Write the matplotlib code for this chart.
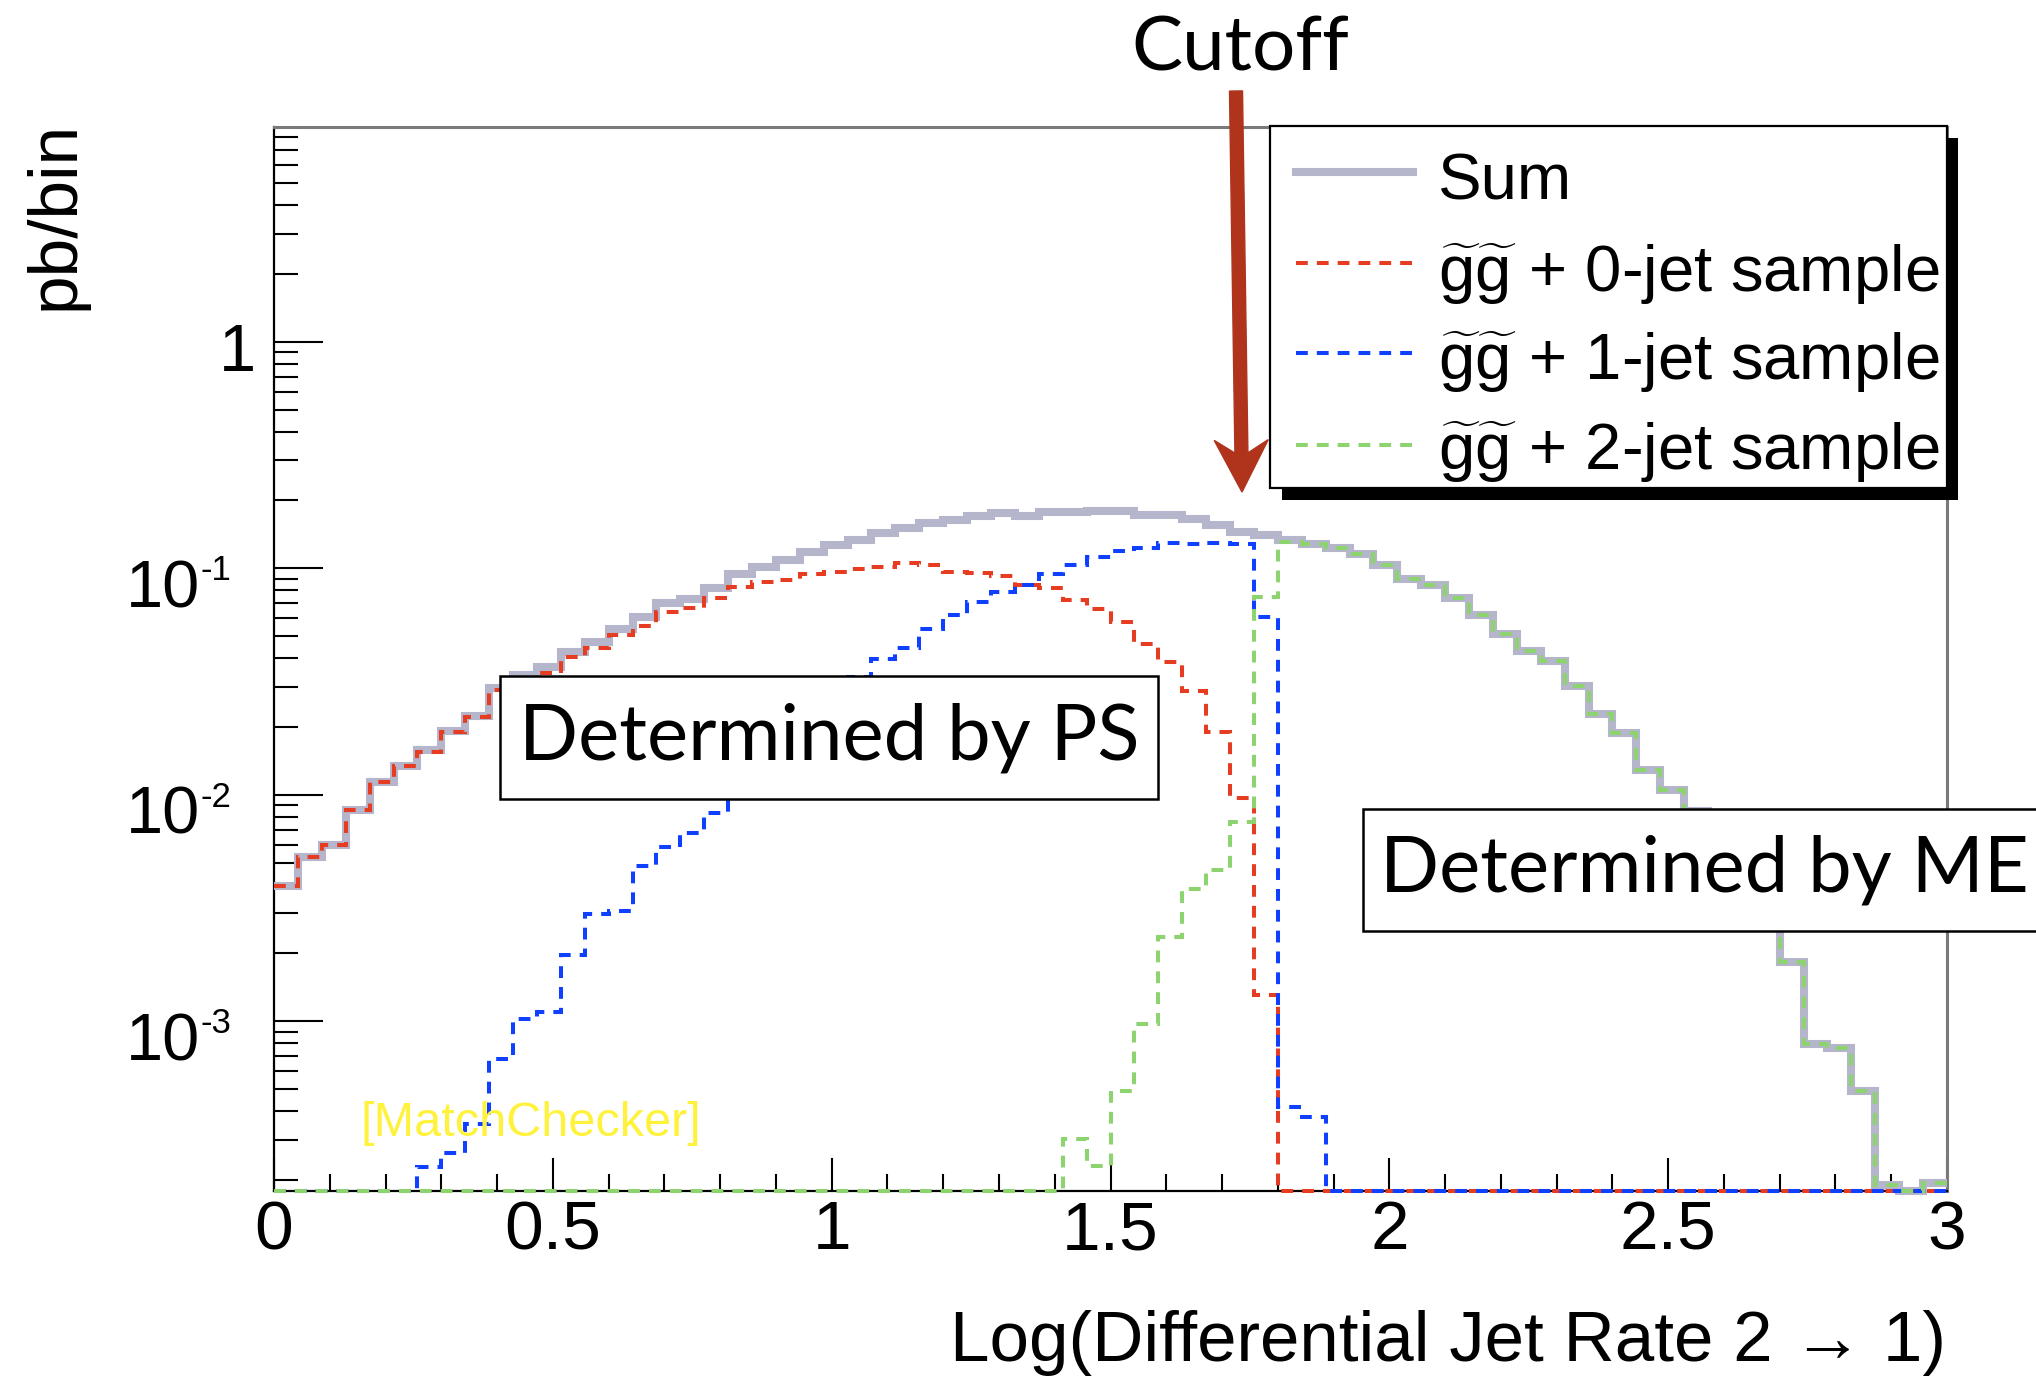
import numpy as np
import matplotlib
matplotlib.use("Agg")
import matplotlib.pyplot as plt
from matplotlib.patches import Rectangle, FancyArrow
from matplotlib.lines import Line2D
from matplotlib.ticker import LogLocator, MultipleLocator, NullFormatter
from matplotlib.transforms import ScaledTranslation, blended_transform_factory

plt.rcParams["font.family"] = ["Liberation Sans", "DejaVu Sans"]
plt.rcParams["mathtext.fontset"] = "custom"
plt.rcParams["mathtext.rm"] = "Liberation Sans"
plt.rcParams["mathtext.it"] = "Liberation Sans:italic"
plt.rcParams["mathtext.bf"] = "Liberation Sans:bold"
plt.rcParams["lines.scale_dashes"] = False

W, H = 2036, 1378

# 70 bins of log10(y_21) between 0 and 3
X_MIN, X_MAX, N_BINS = 0.0, 3.0, 70
Y_MIN, Y_MAX = 1.78e-4, 8.87

X_TICKS = [0, 0.5, 1, 1.5, 2, 2.5, 3]
X_TICK_LABELS = ["0", "0.5", "1", "1.5", "2", "2.5", "3"]
Y_TICKS = [1e-3, 1e-2, 1e-1, 1]
Y_TICK_LABELS = ["10", "10", "10", "1"]
Y_EXPONENTS = ["-3", "-2", "-1", ""]

# pb/bin per sample
sum_all = [
    3.95e-3, 5.33e-3, 6.0e-3, 8.55e-3, 1.14e-2, 1.34e-2, 1.57e-2, 1.92e-2, 2.23e-2, 2.95e-2,
    3.38e-2, 3.67e-2, 4.28e-2, 4.73e-2, 5.37e-2, 6.07e-2, 7.0e-2, 7.31e-2, 8.15e-2, 9.4e-2,
    1.016e-1, 1.087e-1, 1.18e-1, 1.265e-1, 1.33e-1, 1.426e-1, 1.50e-1, 1.58e-1, 1.63e-1, 1.70e-1,
    1.76e-1, 1.70e-1, 1.776e-1, 1.776e-1, 1.795e-1, 1.795e-1, 1.717e-1, 1.717e-1, 1.643e-1, 1.55e-1,
    1.45e-1, 1.40e-1, 1.33e-1, 1.279e-1, 1.23e-1, 1.16e-1, 1.03e-1, 9.0e-2, 8.45e-2, 7.35e-2,
    6.19e-2, 5.13e-2, 4.32e-2, 3.88e-2, 3.03e-2, 2.27e-2, 1.88e-2, 1.28e-2, 1.05e-2, 8.5e-3,
    6.5e-3, 4.8e-3, 3.3e-3, 1.82e-3, 7.94e-4, 7.58e-4, 4.94e-4, 1.9e-4, 0.0, 1.94e-4,
]
jet0 = [
    3.95e-3, 5.33e-3, 6.0e-3, 8.55e-3, 1.14e-2, 1.34e-2, 1.55e-2, 1.90e-2, 2.20e-2, 2.90e-2,
    3.20e-2, 3.46e-2, 4.04e-2, 4.43e-2, 5.07e-2, 5.57e-2, 6.38e-2, 6.65e-2, 7.36e-2, 8.23e-2,
    8.71e-2, 8.87e-2, 9.43e-2, 9.66e-2, 9.90e-2, 1.01e-1, 1.057e-1, 1.033e-1, 9.66e-2, 9.55e-2,
    9.24e-2, 8.43e-2, 8.15e-2, 7.24e-2, 6.58e-2, 5.80e-2, 4.65e-2, 3.87e-2, 2.87e-2, 1.90e-2,
    9.7e-3, 1.30e-3, 0.0, 0.0, 0.0, 0.0, 0.0, 0.0, 0.0, 0.0,
    0.0, 0.0, 0.0, 0.0, 0.0, 0.0, 0.0, 0.0, 0.0, 0.0,
    0.0, 0.0, 0.0, 0.0, 0.0, 0.0, 0.0, 0.0, 0.0, 0.0,
]
jet1 = [
    0.0, 0.0, 0.0, 0.0, 0.0, 0.0, 2.27e-4, 2.61e-4, 3.5e-4, 6.8e-4,
    1.02e-3, 1.10e-3, 1.96e-3, 2.96e-3, 3.06e-3, 4.86e-3, 5.89e-3, 6.75e-3, 8.27e-3, 1.05e-2,
    1.30e-2, 1.70e-2, 2.10e-2, 2.60e-2, 3.32e-2, 3.96e-2, 4.43e-2, 5.37e-2, 6.21e-2, 7.11e-2,
    7.87e-2, 8.43e-2, 9.43e-2, 1.033e-1, 1.124e-1, 1.195e-1, 1.225e-1, 1.297e-1, 1.28e-1, 1.297e-1,
    1.28e-1, 6.10e-2, 4.19e-4, 3.77e-4, 0.0, 0.0, 0.0, 0.0, 0.0, 0.0,
    0.0, 0.0, 0.0, 0.0, 0.0, 0.0, 0.0, 0.0, 0.0, 0.0,
    0.0, 0.0, 0.0, 0.0, 0.0, 0.0, 0.0, 0.0, 0.0, 0.0,
]
jet2 = [
    0.0, 0.0, 0.0, 0.0, 0.0, 0.0, 0.0, 0.0, 0.0, 0.0,
    0.0, 0.0, 0.0, 0.0, 0.0, 0.0, 0.0, 0.0, 0.0, 0.0,
    0.0, 0.0, 0.0, 0.0, 0.0, 0.0, 0.0, 0.0, 0.0, 0.0,
    0.0, 0.0, 0.0, 3.02e-4, 2.29e-4, 4.94e-4, 9.73e-4, 2.35e-3, 3.85e-3, 4.65e-3,
    7.6e-3, 7.47e-2, 1.305e-1, 1.275e-1, 1.23e-1, 1.16e-1, 1.03e-1, 9.0e-2, 8.45e-2, 7.35e-2,
    6.19e-2, 5.13e-2, 4.32e-2, 3.88e-2, 3.03e-2, 2.27e-2, 1.88e-2, 1.28e-2, 1.05e-2, 8.5e-3,
    6.5e-3, 4.8e-3, 3.3e-3, 1.82e-3, 7.94e-4, 7.58e-4, 4.94e-4, 1.9e-4, 0.0, 1.94e-4,
]

GG = r"$\widetilde{\mathrm{g}}\widetilde{\mathrm{g}}$"
series = [
    ("Sum", sum_all, "#b5b5cb", 5.8, "-"),
    (GG + " + 0-jet sample", jet0, "#e63c22", 2.9, (0, (8.5, 6.5))),
    (GG + " + 1-jet sample", jet1, "#1040ff", 2.9, (0, (8.5, 6.5))),
    (GG + " + 2-jet sample", jet2, "#8dd370", 2.9, (0, (8.5, 6.5))),
]


def fx(px):
    return px / W


def fy(py):
    return 1 - py / H


fig = plt.figure(figsize=(W / 100, H / 100), dpi=100)
ax = fig.add_axes([fx(274), fy(1191), (1947 - 274) / W, (1191 - 127) / H])
ax.set_yscale("log")
ax.set_xlim(X_MIN, X_MAX)
ax.set_ylim(Y_MIN, Y_MAX)

edges = np.linspace(X_MIN, X_MAX, N_BINS + 1)
for label, vals, color, lw, ls in series:
    # empty bins sit on the bottom of the frame, as ROOT draws them
    ax.stairs(np.clip(vals, Y_MIN, None), edges, baseline=None, color=color,
              lw=lw, ls=ls, clip_on=False, zorder=3)

# frame
for side in ["left", "bottom"]:
    ax.spines[side].set_color("black")
    ax.spines[side].set_linewidth(1.6)
for side in ["top", "right"]:
    ax.spines[side].set_color("#7a7a7a")
    ax.spines[side].set_linewidth(2.2)

ax.set_xticks(X_TICKS)
ax.set_xticklabels(X_TICK_LABELS)
ax.xaxis.set_minor_locator(MultipleLocator(0.1))
ax.set_yticks(Y_TICKS)
ax.set_yticklabels(Y_TICK_LABELS)
ax.yaxis.set_minor_locator(LogLocator(base=10, subs=np.arange(2, 10)))
ax.yaxis.set_minor_formatter(NullFormatter())
ax.tick_params(axis="both", which="both", direction="in", top=False, right=False,
               width=1.5, color="black")
ax.tick_params(axis="x", which="major", length=24, pad=6, labelsize=50)
ax.tick_params(axis="x", which="minor", length=12)
ax.tick_params(axis="y", which="major", length=35, pad=13, labelsize=48)
ax.tick_params(axis="y", which="minor", length=17.5)

# ROOT-style 10^{-n}: the "10" hangs below the tick, the exponent sits on it
power_shift = ScaledTranslation(-0.56, -0.15, fig.dpi_scale_trans)
plain_shift = ScaledTranslation(0.0, -0.05, fig.dpi_scale_trans)
for lbl, exp in zip(ax.get_yticklabels(), Y_EXPONENTS):
    lbl.set_transform(lbl.get_transform() + (power_shift if exp else plain_shift))
exp_trans = blended_transform_factory(ax.transAxes, ax.transData) + \
    ScaledTranslation(-0.73, -0.12, fig.dpi_scale_trans)
for yv, exp in zip(Y_TICKS, Y_EXPONENTS):
    if exp:
        ax.text(0, yv, exp, fontsize=25, ha="left", va="baseline", transform=exp_trans)

ax.text(0.156, 1.55e-4 * 2.0, "[MatchChecker]", color="#fff23c", fontsize=35,
        ha="left", va="baseline", zorder=5)

fig.text(fx(56), fy(121), "pb/bin", rotation=90, ha="center", va="top", fontsize=50)
fig.text(fx(1946), fy(1361), "Log(Differential Jet Rate 2 \u2192 1)",
         ha="right", va="baseline", fontsize=51)

# legend with ROOT-style drop shadow
fig.add_artist(Rectangle((fx(1282), fy(500)), (1958 - 1282) / W, (500 - 138) / H,
                         transform=fig.transFigure, facecolor="black",
                         edgecolor="none", zorder=4))
fig.add_artist(Rectangle((fx(1270), fy(488)), (1947 - 1270) / W, (488 - 126) / H,
                         transform=fig.transFigure, facecolor="white",
                         edgecolor="black", lw=1.6, zorder=5))
legend_rows = [172, 263, 353, 445]
legend_baselines = [200, 292, 380, 470]
for (label, vals, color, lw, ls), ly, tb in zip(series, legend_rows, legend_baselines):
    fig.add_artist(Line2D([fx(1296), fx(1413)], [fy(ly), fy(ly)], color=color, lw=lw,
                          ls=ls, transform=fig.transFigure, zorder=6))
    fig.text(fx(1438), fy(tb), label, fontsize=47, ha="left", va="baseline", zorder=6)

# region boxes
fig.add_artist(Rectangle((fx(500), fy(799)), (1158 - 500) / W, (799 - 676) / H,
                         transform=fig.transFigure, facecolor="white",
                         edgecolor="black", lw=1.8, zorder=5))
fig.text(fx(829), fy(738), "Determined by PS", family="Lato", fontsize=56,
         ha="center", va="center", zorder=6)
fig.add_artist(Rectangle((fx(1363), fy(931)), (2100 - 1363) / W, (931 - 809) / H,
                         transform=fig.transFigure, facecolor="white",
                         edgecolor="black", lw=1.8, zorder=5))
fig.text(fx(1380), fy(870), "Determined by ME", family="Lato", fontsize=56,
         ha="left", va="center", zorder=6)

# cutoff marker (inches, so the head keeps its shape)
fig.add_artist(FancyArrow(12.36, (H - 91) / 100, 0.06, -4.01, width=0.13,
                          head_width=0.54, head_length=0.52, overhang=0.25,
                          length_includes_head=True, color="#b0341c",
                          transform=fig.dpi_scale_trans, zorder=6))
fig.text(fx(1240), fy(49), "Cutoff", family="Lato", fontsize=55,
         ha="center", va="center")

fig.savefig("out.png", dpi=100)
